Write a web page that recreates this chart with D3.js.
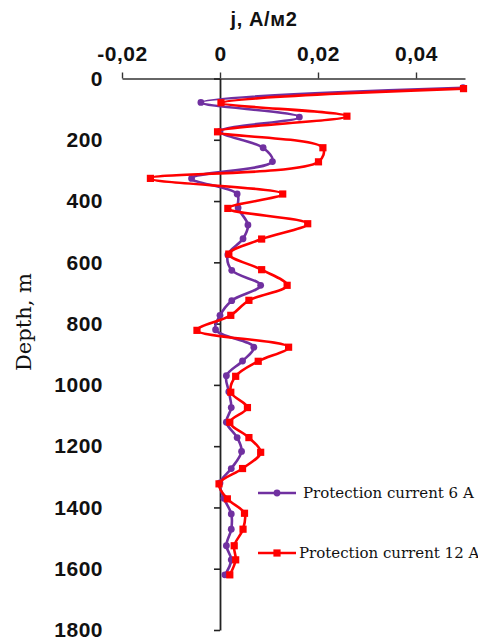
<!DOCTYPE html>
<html>
<head>
<meta charset="utf-8">
<script src="https://cdn.jsdelivr.net/npm/d3@7"></script>
<style>
  html, body { margin: 0; padding: 0; background: #fff; }
  svg { display: block; }
</style>
</head>
<body>
<svg id="chart" width="478" height="640"></svg>
<script>
// Depth (m) and current density j (A/m2) — protection current 6 A
const depth6 = [30, 78, 126, 173, 226, 271, 326, 377, 422, 478, 523, 575, 626, 675, 725, 773, 820, 877, 922, 970, 1022, 1074, 1122, 1172, 1217, 1273, 1320, 1370, 1421, 1471, 1525, 1571, 1620];
const j6 = [0.0496, -0.0039, 0.0162, 0.0, 0.0088, 0.0107, -0.0058, 0.0035, 0.0037, 0.0057, 0.0047, 0.0016, 0.0024, 0.0083, 0.0024, 0.0, -0.0009, 0.0069, 0.0046, 0.0013, 0.0018, 0.0023, 0.0013, 0.0035, 0.0044, 0.0023, 0.0, 0.0008, 0.0023, 0.0023, 0.0013, 0.0023, 0.001];

// Protection current 12 A
const depth12 = [33, 79, 123, 174, 226, 272, 326, 377, 424, 474, 524, 573, 624, 675, 724, 773, 822, 877, 923, 972, 1024, 1074, 1122, 1172, 1220, 1273, 1323, 1372, 1419, 1471, 1525, 1571, 1620];
const j12 = [0.0497, 0.0002, 0.0259, -0.0005, 0.021, 0.0201, -0.0142, 0.0128, 0.0016, 0.0179, 0.0085, 0.0018, 0.0085, 0.0137, 0.0059, 0.0022, -0.0047, 0.014, 0.0078, 0.0032, 0.0022, 0.0056, 0.002, 0.0059, 0.0083, 0.0046, -0.0002, 0.0015, 0.005, 0.0047, 0.0029, 0.0032, 0.002];

const xTicks = [-0.02, 0, 0.02, 0.04];
const yTicks = [0, 200, 400, 600, 800, 1000, 1200, 1400, 1600, 1800];
const seriesNames = ["Protection current 6 A", "Protection current 12 A"];
const xTitle = "j, А/м2";
const yTitle = "Depth, m";

const svg = d3.select("#chart");
const x = d3.scaleLinear().domain([-0.02, 0.05]).range([122, 465]);
const y = d3.scaleLinear().domain([0, 1800]).range([78.5, 630]);

const fmt = d => d === 0 ? "0" : d.toFixed(2).replace(".", ",");

// X axis (top)
const gx = svg.append("g")
  .attr("transform", `translate(0,${y(0)})`)
  .call(d3.axisTop(x).tickValues(xTicks).tickFormat(fmt).tickSize(6).tickSizeOuter(0).tickPadding(12));
gx.select(".domain").attr("stroke", "#333").attr("stroke-width", 1.4);
gx.selectAll(".tick line").attr("stroke", "#333").attr("stroke-width", 1.4);
gx.selectAll("text")
  .attr("font-family", "'Liberation Sans', Arial, sans-serif")
  .attr("font-weight", "bold").attr("font-size", 21)
  .attr("letter-spacing", 0.5).attr("fill", "#111");

// Y axis at x = 0 with labels far left
const gy = svg.append("g")
  .attr("transform", `translate(${x(0)},0)`)
  .call(d3.axisLeft(y).tickValues(yTicks).tickFormat(d3.format("d")).tickSize(6).tickSizeOuter(0).tickPadding(111));
gy.select(".domain").attr("stroke", "#222").attr("stroke-width", 1.8);
gy.selectAll(".tick line").attr("stroke", "#222").attr("stroke-width", 1.6);
gy.selectAll("text")
  .attr("font-family", "'Liberation Sans', Arial, sans-serif")
  .attr("font-weight", "bold").attr("font-size", 21)
  .attr("letter-spacing", 0.5).attr("fill", "#111");

// Titles
svg.append("text")
  .attr("x", 264).attr("y", 26)
  .attr("text-anchor", "middle")
  .attr("font-family", "'Liberation Sans', Arial, sans-serif")
  .attr("font-weight", "bold").attr("font-size", 20)
  .attr("letter-spacing", 0.6)
  .attr("fill", "#111")
  .text(xTitle);

svg.append("text")
  .attr("transform", `translate(31,322) rotate(-90)`)
  .attr("text-anchor", "middle")
  .attr("font-family", "'DejaVu Serif', serif")
  .attr("font-size", 21)
  .attr("fill", "#111")
  .text(yTitle);

// Series
const colors = ["#7030a0", "#ff0000"];
const data6 = depth6.map((d, i) => ({ d, v: j6[i] }));
const data12 = depth12.map((d, i) => ({ d, v: j12[i] }));

const line = d3.line().x(p => x(p.v)).y(p => y(p.d)).curve(d3.curveCatmullRom.alpha(0.5));

svg.append("path").datum(data6)
  .attr("d", line).attr("fill", "none")
  .attr("stroke", colors[0]).attr("stroke-width", 2.6).attr("stroke-linejoin", "round");
svg.append("g").selectAll("circle").data(data6).join("circle")
  .attr("cx", p => x(p.v)).attr("cy", p => y(p.d)).attr("r", 3.4)
  .attr("fill", colors[0]);

svg.append("path").datum(data12)
  .attr("d", line).attr("fill", "none")
  .attr("stroke", colors[1]).attr("stroke-width", 2.6).attr("stroke-linejoin", "round");
svg.append("g").selectAll("rect").data(data12).join("rect")
  .attr("x", p => x(p.v) - 3.6).attr("y", p => y(p.d) - 3.6)
  .attr("width", 7.2).attr("height", 7.2)
  .attr("fill", colors[1]);

// Legend
const legY = [493, 553];
const legTextX = [303, 299];
seriesNames.forEach((name, i) => {
  const g = svg.append("g");
  g.append("line").attr("x1", 258).attr("x2", 296).attr("y1", legY[i]).attr("y2", legY[i])
    .attr("stroke", colors[i]).attr("stroke-width", 2.6);
  if (i === 0) {
    g.append("circle").attr("cx", 277).attr("cy", legY[i]).attr("r", 3.4).attr("fill", colors[i]);
  } else {
    g.append("rect").attr("x", 277 - 3.6).attr("y", legY[i] - 3.6).attr("width", 7.2).attr("height", 7.2).attr("fill", colors[i]);
  }
  g.append("text").attr("x", legTextX[i]).attr("y", legY[i] + 5)
    .attr("font-family", "'DejaVu Serif', serif")
    .attr("font-size", 15).attr("fill", "#111")
    .text(name);
});
</script>
</body>
</html>
